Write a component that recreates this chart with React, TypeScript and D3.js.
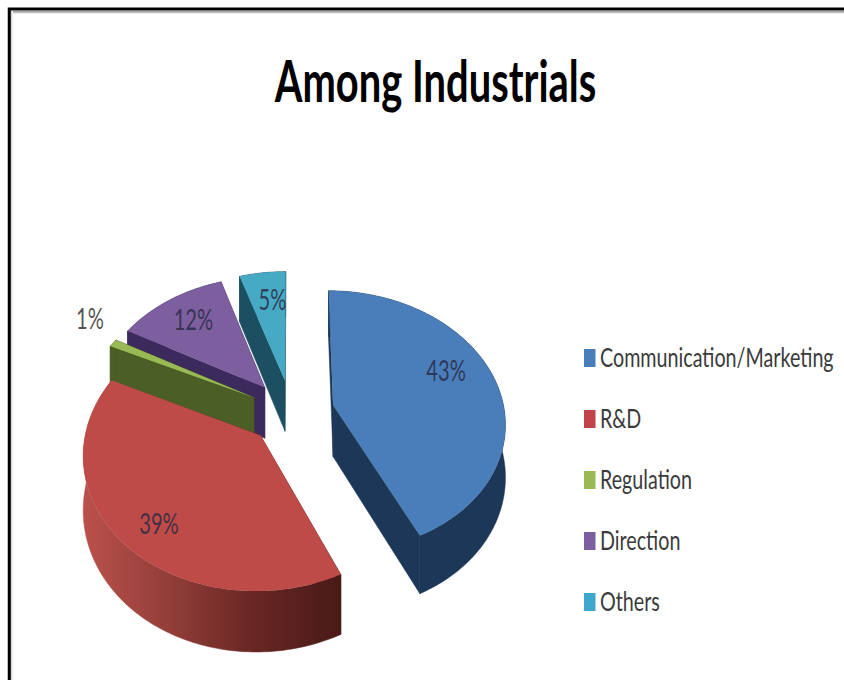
import React from "react";
import * as d3 from "d3";

// Chart content
const title = "Among Industrials";
const categories = ["Communication/Marketing", "R&D", "Regulation", "Direction", "Others"];
const shares = [43, 39, 1, 12, 5];

// Slice colours
const topColors = ["#4a7ebb", "#be4b48", "#98b954", "#7d5fa0", "#46aac5"];
const sideColors = ["#1c3757", "url(#redWall)", "#4a5e25", "#3c2a5c", "#1d4f63"];
const legendColors = ["#4a7ebb", "#c0434a", "#98b954", "#7d5fa0", "#3fa6cc"];

// Label placement: fraction of the radius and angular nudge (degrees) per slice
const labelRadius = [0.736, 0.804, 1.274, 0.753, 0.725];
const labelNudge = [-9.4, -3.6, 5, 0, 1.2];

// Projection of the tilted disc
const width = 844;
const height = 680;
const cx = 291.5;
const cy = 412;
const rx = 171.5;
const ry = 130;
const perspective = 0.124;
const depth = 52;
const explode = 0.25;

type Pt = [number, number];

const project = (X: number, Y: number, drop = 0): Pt => {
  const s = 1 / (1 + perspective * Y);
  return [cx + X * rx * s, cy - Y * ry * s + drop * s];
};

const pieLayout = d3.pie<number>().sort(null).startAngle(0).endAngle(2 * Math.PI);
const arcs = pieLayout(shares);
const line = d3.line<Pt>();

const rimPoints = (a0: number, a1: number, ox: number, oy: number, drop: number): Pt[] => {
  const n = Math.max(2, Math.ceil((a1 - a0) / 0.02));
  return d3.range(n + 1).map((i) => {
    const a = a0 + ((a1 - a0) * i) / n;
    return project(ox + Math.sin(a), oy + Math.cos(a), drop);
  });
};

const slices = arcs.map((arc, i) => {
  const mid = (arc.startAngle + arc.endAngle) / 2;
  const ox = explode * Math.sin(mid);
  const oy = explode * Math.cos(mid);
  const rim = rimPoints(arc.startAngle, arc.endAngle, ox, oy, 0);
  const rimLow = rimPoints(arc.startAngle, arc.endAngle, ox, oy, depth);
  const apex = project(ox, oy);
  const apexLow = project(ox, oy, depth);
  const la = mid + (labelNudge[i] * Math.PI) / 180;
  const label = project(
    ox + labelRadius[i] * Math.sin(la),
    oy + labelRadius[i] * Math.cos(la)
  );
  return {
    i,
    top: line([apex, ...rim])! + "Z",
    wall: line([...rim, ...[...rimLow].reverse()])! + "Z",
    startFace: line([apex, rim[0], rimLow[0], apexLow])! + "Z",
    endFace: line([apex, rim[rim.length - 1], rimLow[rimLow.length - 1], apexLow])! + "Z",
    label,
  };
});

// Back slices are painted first so nearer ones cover them
const paintOrder = [4, 3, 2, 1, 0];

const legendY = d3.scalePoint<string>().domain(categories).range([358, 602]);
const sans = "Lato, Carlito, 'Open Sans', sans-serif";

export default function App() {
  return (
    <svg
      width={width}
      height={height}
      viewBox={`0 0 ${width} ${height}`}
      style={{ position: "absolute", left: 0, top: 0, background: "#fff" }}
    >
      <defs>
        <linearGradient id="redWall" gradientUnits="userSpaceOnUse" x1={85} x2={340} y1={0} y2={0}>
          <stop offset="0" stopColor="#b9504b" />
          <stop offset="0.3" stopColor="#96403b" />
          <stop offset="0.65" stopColor="#6a2724" />
          <stop offset="1" stopColor="#491a18" />
        </linearGradient>
        <linearGradient id="frameShadeTop" x1="0" x2="0" y1="0" y2="1">
          <stop offset="0" stopColor="#888" />
          <stop offset="1" stopColor="#fff" />
        </linearGradient>
        <linearGradient id="frameShadeLeft" x1="0" x2="1" y1="0" y2="0">
          <stop offset="0" stopColor="#aaa" />
          <stop offset="1" stopColor="#fff" />
        </linearGradient>
      </defs>

      {/* Frame around the slide */}
      <rect x={10} y={11} width={834} height={3} fill="url(#frameShadeTop)" />
      <rect x={10} y={11} width={3} height={669} fill="url(#frameShadeLeft)" />
      <path d="M9.25,680V9H844" fill="none" stroke="#000" strokeWidth={3} />

      <text
        transform="translate(435.5,102) scale(0.7,1)"
        textAnchor="middle"
        fontFamily={sans}
        fontSize={57}
        fontWeight={700}
        fill="#000"
      >
        {title}
      </text>

      {paintOrder.map((idx) => {
        const s = slices[idx];
        const side = sideColors[idx];
        return (
          <g key={categories[idx]}>
            <path d={s.wall} fill={side} stroke={side} strokeWidth={0.5} />
            <path d={s.startFace} fill={side} stroke={side} strokeWidth={0.5} />
            <path d={s.endFace} fill={side} stroke={side} strokeWidth={0.5} />
            <path d={s.top} fill={topColors[idx]} />
          </g>
        );
      })}

      {slices.map((s) => (
        <text
          key={categories[s.i]}
          transform={`translate(${s.label[0] + 2},${s.label[1] + 10}) scale(0.72,1)`}
          textAnchor="middle"
          fontFamily={sans}
          fontSize={28}
          fill={s.i === 2 ? "#333" : "#2b2b45"}
          fillOpacity={0.85}
        >
          {`${shares[s.i]}%`}
        </text>
      ))}

      {categories.map((c, i) => (
        <g key={c}>
          <rect
            x={584}
            y={legendY(c)! - 9}
            width={11.5}
            height={18}
            fill={legendColors[i]}
          />
          <text
            transform={`translate(600,${legendY(c)! + 9}) scale(0.73,1)`}
            fontFamily={sans}
            fontSize={27}
            fill="#3a3a3a"
          >
            {c}
          </text>
        </g>
      ))}
    </svg>
  );
}
